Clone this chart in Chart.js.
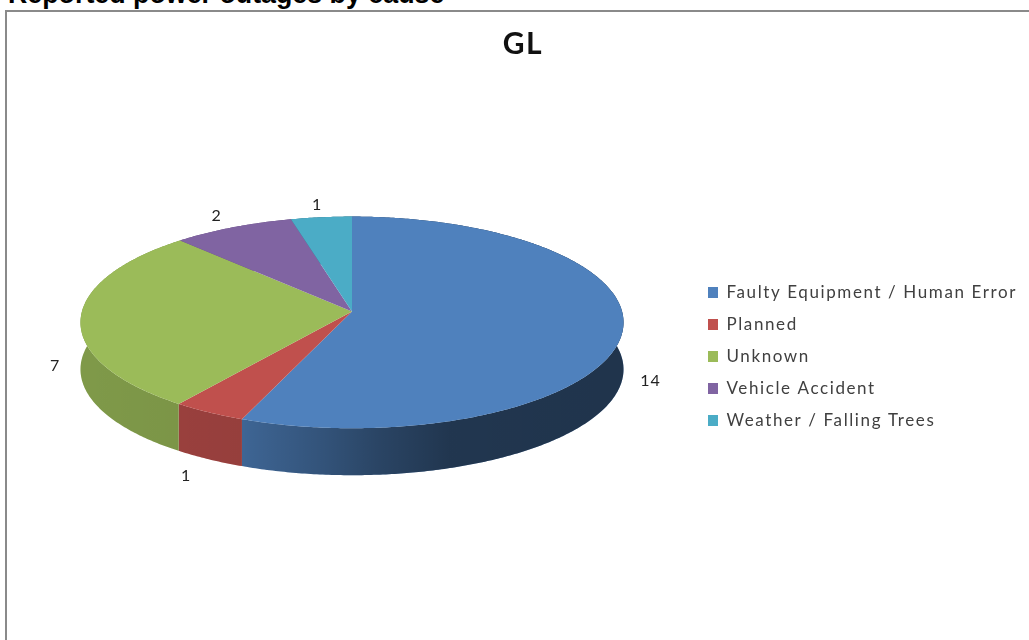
<!DOCTYPE html>
<html><head><meta charset="utf-8">
<style>
html,body{margin:0;padding:0;background:#fff;width:1029px;height:640px;overflow:hidden}
#head{position:absolute;left:8px;top:-21px;font:bold 26.8px/30px "Liberation Sans",Arial,sans-serif;color:#000;white-space:nowrap}
#frame{position:absolute;left:5px;top:10px;right:-5px;bottom:-5px;border-left:2px solid #8a8a8a;border-top:2px solid #8a8a8a}
#c{position:absolute;left:17px;top:12px}
</style></head><body>
<div id="head">Reported power outages by cause</div>
<div id="frame"></div>
<canvas id="c" width="1012" height="628"></canvas>
<script src="https://cdn.jsdelivr.net/npm/chart.js@4/dist/chart.umd.min.js"></script>
<script>
const categories = ['Faulty Equipment / Human Error','Planned','Unknown','Vehicle Accident','Weather / Falling Trees'];
const outages = [14,1,7,2,1];
const faceColors = ['#4f81bd','#c0504d','#9bbb59','#8064a2','#4bacc6'];
const chartTitle = 'GL';

// Perspective of the tilted disc, relative to the arc's own radius
const VIEW = {sx:1.104, sy:0.428, k:-0.104, depth:0.192};
const SHADE = [[0,.18],[.3,.22],[.45,.36],[.55,.47],[.68,.58],[1,.6]];

function project(el,angle,rho){
  const R=el.outerRadius, X=rho*Math.cos(angle), Y=rho*Math.sin(angle), d=1+VIEW.k*Y;
  return {x:el.x+R*VIEW.sx*X/d, y:el.y+R*VIEW.sy*Y/d};
}
function rim(el){
  const n=Math.max(4,Math.ceil((el.endAngle-el.startAngle)/0.01)), pts=[];
  for(let i=0;i<=n;i++) pts.push(project(el,el.startAngle+(el.endAngle-el.startAngle)*i/n,1));
  return pts;
}
const pie3d = {
  id:'pie3d',
  afterLayout(chart){
    const l=chart.legend;
    l.left=676; l.right=1012; l.width=336; l.top=257; l.bottom=l.top+l.height;
    l.adjustHitBoxes();
    const t=chart.titleBlock;
    t.left=0; t.right=1012; t.width=1012;
  },
  beforeDraw(chart){ chart.ctx.letterSpacing='1.6px'; },
  beforeDatasetDraw(chart){
    const ctx=chart.ctx, arcs=chart.getDatasetMeta(0).data;
    ctx.letterSpacing='0px';
    ctx.save();
    arcs.forEach(el=>{
      const pts=rim(el), dz=el.outerRadius*VIEW.depth, rx=el.outerRadius*VIEW.sx;
      const g=ctx.createLinearGradient(el.x-rx,0,el.x+rx,0);
      SHADE.forEach(s=>g.addColorStop(s[0],'rgba(0,0,0,'+s[1]+')'));
      ctx.beginPath();
      pts.forEach((p,i)=>i?ctx.lineTo(p.x,p.y):ctx.moveTo(p.x,p.y));
      pts.slice().reverse().forEach(p=>ctx.lineTo(p.x,p.y+dz));
      ctx.closePath();
      ctx.fillStyle=el.options.backgroundColor; ctx.fill();
      ctx.fillStyle=g; ctx.fill();
    });
    arcs.forEach(el=>{
      const pts=rim(el);
      ctx.beginPath(); ctx.moveTo(el.x,el.y);
      pts.forEach(p=>ctx.lineTo(p.x,p.y));
      ctx.closePath();
      ctx.fillStyle=el.options.backgroundColor; ctx.fill();
    });
    ctx.fillStyle='#222'; ctx.font='16px Lato'; ctx.textAlign='center'; ctx.textBaseline='middle';
    ctx.letterSpacing='1px';
    arcs.forEach((el,i)=>{
      const mid=(el.startAngle+el.endAngle)/2, s=Math.sin(mid), front=s>=0;
      const p=project(el,mid,front?1.09+0.06*s:1.15);
      ctx.fillText(String(outages[i]),p.x,p.y+(front?el.outerRadius*VIEW.depth:0));
    });
    ctx.restore();
    return false;
  }
};
new Chart(document.getElementById('c'),{
  type:'pie',
  data:{labels:categories,datasets:[{data:outages,backgroundColor:faceColors,borderWidth:0}]},
  options:{
    responsive:false,animation:false,
    layout:{padding:{left:0,right:342,top:0,bottom:84}},
    plugins:{
      tooltip:{enabled:false},
      title:{display:true,text:chartTitle,color:'#111',font:{family:'Lato',size:30,weight:'bold'},padding:{top:14,bottom:4.8}},
      legend:{position:'chartArea',align:'start',labels:{boxWidth:10,boxHeight:11,padding:15,color:'#404040',font:{family:'Lato',size:17}}}
    }
  },
  plugins:[pie3d]
});
</script>
</body></html>
